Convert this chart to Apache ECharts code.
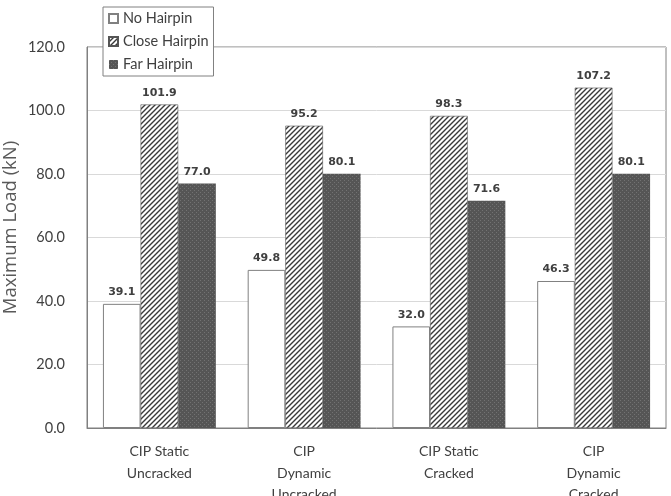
<!DOCTYPE html>
<html>
<head>
<meta charset="utf-8">
<script src="https://cdn.jsdelivr.net/npm/echarts@6/dist/echarts.min.js"></script>
<style>
  html, body { margin: 0; padding: 0; background: #fff; }
  #chart { width: 671px; height: 496px; }
</style>
</head>
<body>
<div id="chart"></div>
<script>
// data
const categories = ['CIP Static\nUncracked', 'CIP\nDynamic\nUncracked', 'CIP Static\nCracked', 'CIP\nDynamic\nCracked']
const noHairpin = [39.1, 49.8, 32.0, 46.3]
const closeHairpin = [101.9, 95.2, 98.3, 107.2]
const farHairpin = [77.0, 80.1, 71.6, 80.1]
const yTicks = [0, 20, 40, 60, 80, 100, 120]

// small pattern tiles for the hatched / dotted fills
function hatchTile() {
  const c = document.createElement('canvas')
  c.width = 5; c.height = 5
  const g = c.getContext('2d')
  g.fillStyle = '#ffffff'
  g.fillRect(0, 0, 5, 5)
  g.strokeStyle = '#3a3a3a'
  g.lineWidth = 1.4
  g.beginPath()
  g.moveTo(-1, 6); g.lineTo(6, -1)
  g.moveTo(-1, 1); g.lineTo(1, -1)
  g.moveTo(4, 6); g.lineTo(6, 4)
  g.stroke()
  return c
}
function dotTile() {
  const c = document.createElement('canvas')
  c.width = 4; c.height = 4
  const g = c.getContext('2d')
  g.fillStyle = '#555555'
  g.fillRect(0, 0, 4, 4)
  g.fillStyle = '#727272'
  g.fillRect(0, 0, 1, 1)
  g.fillRect(2, 2, 1, 1)
  return c
}

const font = 'Lato, "Open Sans", sans-serif'
const labelCfg = {
  show: true, position: 'top', distance: 6,
  formatter: p => p.value.toFixed(1),
  fontFamily: '"DejaVu Sans", sans-serif', fontWeight: 'bold', fontSize: 11, color: '#404040'
}

const chart = echarts.init(document.getElementById('chart'))
chart.setOption({
  animation: false,
  backgroundColor: '#fff',
  grid: { left: 87, right: 5, top: 47, bottom: 68, outerBoundsMode: 'none', containLabel: false,
    show: true, borderColor: '#808080', borderWidth: 1 },
  legend: {
    orient: 'vertical', left: 103, top: 7,
    backgroundColor: '#fff', borderColor: '#808080', borderWidth: 1,
    padding: [4, 5, 4, 5], itemGap: 8, itemWidth: 9, itemHeight: 9,
    icon: 'rect',
    textStyle: { fontFamily: font, fontSize: 14.5, color: '#404040' },
    data: ['No Hairpin', 'Close Hairpin', 'Far Hairpin']
  },
  xAxis: {
    type: 'category', data: categories,
    axisLine: { lineStyle: { color: '#808080' } },
    axisTick: { show: false },
    axisLabel: { fontFamily: font, fontSize: 14, color: '#404040', lineHeight: 21.5, margin: 13, interval: 0 }
  },
  yAxis: {
    type: 'value', min: yTicks[0], max: yTicks[yTicks.length - 1], interval: 20,
    name: 'Maximum Load (kN)', nameLocation: 'middle', nameGap: 67, nameMoveOverlap: false,
    nameTextStyle: { fontFamily: '"Open Sans", sans-serif', fontSize: 18.5, color: '#595959', padding: [0, 0, 0, 20] },
    axisLine: { show: true, lineStyle: { color: '#808080' } },
    axisLabel: { fontFamily: font, fontSize: 14.5, color: '#404040', margin: 22, formatter: v => v.toFixed(1) },
    splitLine: { lineStyle: { color: '#d9d9d9' } }
  },
  series: [
    { name: 'No Hairpin', type: 'bar', data: noHairpin, barGap: '0%', barCategoryGap: '22%',
      itemStyle: { color: '#ffffff', borderColor: '#808080', borderWidth: 1 }, label: labelCfg },
    { name: 'Close Hairpin', type: 'bar', data: closeHairpin,
      itemStyle: { color: { image: hatchTile(), repeat: 'repeat' }, borderColor: '#555', borderWidth: 0.6 }, label: labelCfg },
    { name: 'Far Hairpin', type: 'bar', data: farHairpin,
      itemStyle: { color: { image: dotTile(), repeat: 'repeat' } }, label: labelCfg }
  ]
})
</script>
</body>
</html>
